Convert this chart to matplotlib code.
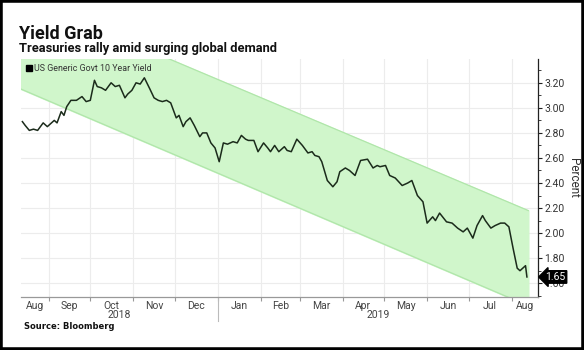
import numpy as np
import pandas as pd
import matplotlib
matplotlib.use('Agg')
import matplotlib.pyplot as plt
import matplotlib.dates as mdates
import matplotlib.transforms as mtransforms
from matplotlib.ticker import MultipleLocator, FixedLocator, FixedFormatter, NullFormatter
from matplotlib.lines import Line2D
from matplotlib.patches import Rectangle

plt.rcParams['font.family'] = ['Roboto', 'DejaVu Sans']

# US Generic Govt 10 Year Yield
dates = ['2018-08-13', '2018-08-15', '2018-08-18', '2018-08-21', '2018-08-24',
         '2018-08-28', '2018-08-31', '2018-09-05', '2018-09-07', '2018-09-10',
         '2018-09-12', '2018-09-14', '2018-09-17', '2018-09-21', '2018-09-25',
         '2018-09-28', '2018-10-01', '2018-10-04', '2018-10-06', '2018-10-09',
         '2018-10-12', '2018-10-14', '2018-10-16', '2018-10-19', '2018-10-22',
         '2018-10-26', '2018-10-28', '2018-10-31', '2018-11-03', '2018-11-06',
         '2018-11-09', '2018-11-13', '2018-11-16', '2018-11-19', '2018-11-22',
         '2018-11-25', '2018-11-28', '2018-12-02', '2018-12-04', '2018-12-07',
         '2018-12-09', '2018-12-12', '2018-12-15', '2018-12-19', '2018-12-21',
         '2018-12-24', '2018-12-27', '2018-12-30', '2019-01-02', '2019-01-05',
         '2019-01-08', '2019-01-12', '2019-01-15', '2019-01-18', '2019-01-21',
         '2019-01-23', '2019-01-27', '2019-01-30', '2019-02-03', '2019-02-06',
         '2019-02-08', '2019-02-11', '2019-02-14', '2019-02-18', '2019-02-20',
         '2019-02-23', '2019-02-27', '2019-03-03', '2019-03-07', '2019-03-10',
         '2019-03-12', '2019-03-15', '2019-03-17', '2019-03-21', '2019-03-25',
         '2019-03-28', '2019-03-30', '2019-04-03', '2019-04-06', '2019-04-10',
         '2019-04-14', '2019-04-19', '2019-04-23', '2019-04-26', '2019-04-28',
         '2019-05-02', '2019-05-05', '2019-05-09', '2019-05-14', '2019-05-18',
         '2019-05-21', '2019-05-25', '2019-05-29', '2019-06-01', '2019-06-05',
         '2019-06-07', '2019-06-10', '2019-06-15', '2019-06-19', '2019-06-23',
         '2019-06-27', '2019-06-30', '2019-07-04', '2019-07-07', '2019-07-11',
         '2019-07-13', '2019-07-17', '2019-07-20', '2019-07-24', '2019-07-27',
         '2019-07-30', '2019-08-02', '2019-08-05', '2019-08-07', '2019-08-10',
         '2019-08-11', '2019-08-12']
yields = [2.89, 2.86, 2.82, 2.83, 2.82,
          2.88, 2.85, 2.90, 2.88, 2.97,
          2.94, 3.01, 3.06, 3.06, 3.09,
          3.05, 3.06, 3.22, 3.17, 3.16,
          3.14, 3.17, 3.20, 3.17, 3.18,
          3.08, 3.11, 3.14, 3.20, 3.19,
          3.24, 3.15, 3.08, 3.06, 3.05,
          3.06, 3.04, 2.92, 2.94, 2.85,
          2.89, 2.92, 2.86, 2.77, 2.80,
          2.80, 2.72, 2.68, 2.57, 2.72,
          2.71, 2.73, 2.72, 2.78, 2.75,
          2.74, 2.74, 2.65, 2.72, 2.68,
          2.65, 2.70, 2.65, 2.69, 2.66,
          2.65, 2.75, 2.70, 2.64, 2.65,
          2.62, 2.61, 2.57, 2.42, 2.37,
          2.41, 2.49, 2.52, 2.50, 2.46,
          2.58, 2.59, 2.52, 2.54, 2.53,
          2.54, 2.46, 2.44, 2.38, 2.40,
          2.42, 2.30, 2.25, 2.08, 2.13,
          2.10, 2.16, 2.09, 2.08, 2.04,
          2.01, 2.04, 1.96, 2.06, 2.14,
          2.10, 2.04, 2.06, 2.08, 2.08,
          2.05, 1.88, 1.72, 1.70, 1.73,
          1.74, 1.65]

# trend channel (green band)
band_dates = ['2018-08-12', '2019-08-13']
band_upper = [3.89, 2.18]
band_lower = [3.15, 1.42]

month_names = ['Aug', 'Sep', 'Oct', 'Nov', 'Dec', 'Jan', 'Feb',
               'Mar', 'Apr', 'May', 'Jun', 'Jul', 'Aug']
years = ['2018', '2019']
last_value = 1.65

x0 = pd.Timestamp('2018-08-12')
x1 = pd.Timestamp('2019-08-20')

fig = plt.figure(figsize=(5.84, 3.5), dpi=100)
ax = fig.add_axes([21 / 584, 1 - 297 / 350, (538 - 21) / 584, (297 - 59) / 350])

bd = pd.to_datetime(band_dates)
ax.fill_between(bd, band_lower, band_upper, color='#d0f6cb', zorder=1)
ax.plot(bd, band_upper, color='#b0e6aa', lw=0.9, zorder=1)
ax.plot(bd, band_lower, color='#b0e6aa', lw=0.9, zorder=1)

ax.plot(pd.to_datetime(dates), yields, color='#1b2b1b', lw=1.1, zorder=3)

ax.set_xlim(x0, x1)
ax.set_ylim(1.49, 3.39)

# y axis on the right
ax.yaxis.tick_right()
ax.yaxis.set_major_locator(MultipleLocator(0.2))
ax.yaxis.set_minor_locator(MultipleLocator(0.1))
ax.yaxis.set_major_formatter(matplotlib.ticker.FormatStrFormatter('%.2f'))
ax.tick_params(axis='y', which='major', length=3, width=0.8, pad=1.5,
               labelsize=7.5, labelcolor='#333333', color='#222222')
ax.tick_params(axis='y', which='minor', length=2, width=0.6, color='#222222')

# x axis: ticks at month starts, labels centred on visible month
ax.xaxis.set_major_locator(mdates.MonthLocator())
ax.xaxis.set_major_formatter(NullFormatter())
starts = pd.date_range('2018-08-01', '2019-09-01', freq='MS')
mids = []
for a, b in zip(starts[:-1], starts[1:]):
    a = max(a, x0)
    b = min(b, x1)
    mids.append(mdates.date2num(a) + (mdates.date2num(b) - mdates.date2num(a)) / 2)
ax.xaxis.set_minor_locator(FixedLocator(mids))
ax.xaxis.set_minor_formatter(FixedFormatter(month_names))
ax.tick_params(axis='x', which='major', length=3, width=0.8, color='#999999')
ax.tick_params(axis='x', which='minor', length=0, pad=3,
               labelsize=7.5, labelcolor='#444444')

ax.grid(True, which='major', color='#ececec', lw=0.8, zorder=0)
ax.set_axisbelow(True)

for s in ['top', 'left']:
    ax.spines[s].set_visible(False)
ax.spines['right'].set_color('#222222')
ax.spines['right'].set_linewidth(0.9)
ax.spines['bottom'].set_color('#999999')
ax.spines['bottom'].set_linewidth(0.9)

# year labels and separator
trans = mtransforms.blended_transform_factory(ax.transData, ax.transAxes)
jan1 = pd.Timestamp('2019-01-01')
yr_spans = [(x0, jan1), (jan1, x1)]
for yr, (a, b) in zip(years, yr_spans):
    xm = mdates.date2num(a) + (mdates.date2num(b) - mdates.date2num(a)) / 2
    ax.text(xm, -0.076, yr, transform=trans, ha='center', va='center',
            fontsize=7.5, color='#444444')
ax.plot([jan1, jan1], [0, -0.1], transform=trans, color='#bbbbbb',
        lw=0.8, clip_on=False)

# legend
h = Line2D([], [], marker='s', color='black', ls='', markersize=4)
leg = ax.legend([h], ['US Generic Govt 10 Year Yield'], loc='upper left',
                frameon=False, fontsize=6.4, handletextpad=0.1,
                borderaxespad=0.35, handlelength=0.8, borderpad=0.2)
for t in leg.get_texts():
    t.set_color('#333333')

# last value tag
vtrans = mtransforms.blended_transform_factory(ax.transAxes, ax.transData)
ax.text(1.014, last_value, '%.2f' % last_value, transform=vtrans, ha='left',
        va='center', fontsize=7.5, color='white', zorder=5, clip_on=False,
        bbox=dict(boxstyle='larrow,pad=0.12', fc='black', ec='black'))

ax.set_ylabel('Percent', rotation=-90, fontsize=8.5, color='#333333', labelpad=11)
ax.yaxis.set_label_position('right')

fig.text(19 / 584, 1 - 39 / 350, 'Yield Grab', fontsize=13, fontweight='bold',
         va='baseline', ha='left', color='#111111')
fig.text(19 / 584, 1 - 52 / 350, 'Treasuries rally amid surging global demand',
         fontsize=9.3, fontweight='bold', va='baseline', ha='left', color='#111111')
fig.text(24 / 584, 1 - 329 / 350, 'Source: Bloomberg', fontsize=6, fontweight='bold',
         va='baseline', ha='left', color='#111111', family='DejaVu Sans')

fig.patches.append(Rectangle((0, 0), 1, 1, transform=fig.transFigure,
                             fill=False, ec='black', lw=4))

fig.savefig('out.png', dpi=100, facecolor='white')
